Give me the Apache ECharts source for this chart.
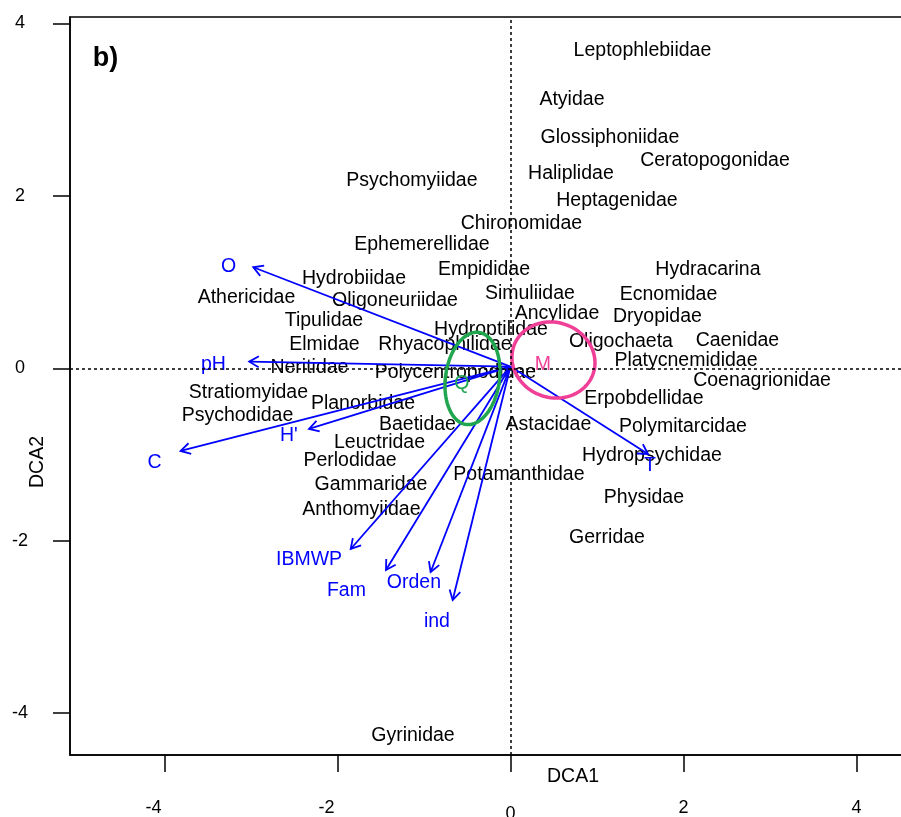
<!DOCTYPE html>
<html><head><meta charset="utf-8">
<script src="https://cdn.jsdelivr.net/npm/echarts@6/dist/echarts.min.js"></script>
<style>html,body{margin:0;padding:0;background:#fff;}#c{width:901px;height:817px;}</style>
</head><body><div id="c"></div>
<script>
// ---------- data (DCA scores) ----------
const speciesNames = ['Leptophlebiidae','Atyidae','Glossiphoniidae','Ceratopogonidae','Haliplidae','Heptagenidae','Psychomyiidae','Chironomidae','Ephemerellidae','Empididae','Hydrobiidae','Hydracarina','Simuliidae','Ecnomidae','Oligoneuriidae','Athericidae','Ancylidae','Dryopidae','Tipulidae','Hydroptilidae','Caenidae','Oligochaeta','Elmidae','Rhyacophilidae','Platycnemididae','Neritidae','Polycentropodidae','Coenagrionidae','Stratiomyidae','Erpobdellidae','Psychodidae','Planorbidae','Baetidae','Astacidae','Polymitarcidae','Leuctridae','Hydropsychidae','Perlodidae','Potamanthidae','Gammaridae','Physidae','Anthomyiidae','Gerridae','Gyrinidae'];
const speciesX = [1.526,0.711,1.150,2.364,0.699,1.231,-1.139,0.127,-1.023,-0.306,-1.809,2.283,0.225,1.827,-1.335,-3.052,0.538,1.699,-2.156,-0.225,2.624,1.277,-2.150,-0.757,2.029,-2.324,-0.636,2.908,-3.029,1.543,-3.156,-1.705,-1.075,0.439,1.994,-1.514,1.636,-1.855,0.098,-1.613,1.543,-1.723,1.116,-1.127];
const speciesY = [3.704,3.136,2.695,2.428,2.277,1.964,2.196,1.697,1.454,1.164,1.059,1.164,0.885,0.874,0.804,0.839,0.653,0.618,0.572,0.468,0.334,0.328,0.294,0.294,0.102,0.027,-0.031,-0.124,-0.263,-0.333,-0.530,-0.391,-0.634,-0.634,-0.658,-0.843,-0.994,-1.058,-1.220,-1.336,-1.487,-1.621,-1.945,-4.242];

const vectorNames = ['O','pH',"H'",'C','IBMWP','Fam','Orden','ind','T'];
const vectorX = [-2.973,-3.020,-2.329,-3.813,-1.847,-1.439,-0.923,-0.668,1.590];
const vectorY = [1.172,0.077,-0.704,-0.959,-2.096,-2.340,-2.363,-2.688,-0.994];
const vectorLabelX = [-3.260,-3.434,-2.561,-4.116,-2.329,-1.896,-1.116,-0.850,1.613];
const vectorLabelY = [1.198,0.065,-0.762,-1.072,-2.201,-2.560,-2.468,-2.926,-1.110];
const vectorOrigin = [0, 0.02];

const groupNames = ['Q','M'];
const groupX = [-0.439, 0.497];
const groupY = [-0.118, 0.096];
const groupRx = [0.312, 0.486];
const groupRy = [0.539, 0.435];
const groupAngle = [8, 20];
const groupLabelX = [-0.561, 0.376];
const groupLabelY = [-0.159, 0.061];

const xTicks = [-4, -2, 0, 2, 4];
const yTicks = [-4, -2, 0, 2, 4];

// ---------- styles ----------
const FONT = '"Liberation Sans", Arial, sans-serif';
const BLUE = '#0000ff';
const groupColors = ['#1fa64f', '#ef3f97'];
const TEXT_DY = 1.5;

const chart = echarts.init(document.getElementById('c'), null, {renderer: 'canvas'});

function textRender(names, colors) {
  return function (params, api) {
    const p = api.coord([api.value(0), api.value(1)]);
    const i = params.dataIndex;
    return {
      type: 'text', x: p[0], y: p[1] + TEXT_DY,
      style: {
        text: names[i], textAlign: 'center', textVerticalAlign: 'middle',
        font: '19.5px ' + FONT, fill: Array.isArray(colors) ? colors[i] : colors
      }
    };
  };
}

const speciesData = speciesNames.map((n, i) => [speciesX[i], speciesY[i]]);
const vectorData = vectorNames.map((n, i) => [vectorX[i], vectorY[i], vectorOrigin[0], vectorOrigin[1]]);
const vectorLabelData = vectorNames.map((n, i) => [vectorLabelX[i], vectorLabelY[i]]);
const groupData = groupNames.map((n, i) => [groupX[i], groupY[i], groupRx[i], groupRy[i], groupAngle[i]]);
const groupLabelData = groupNames.map((n, i) => [groupLabelX[i], groupLabelY[i]]);

const tickFont = {fontSize: 18, fontFamily: FONT, color: '#000'};

const option = {
  animation: false,
  backgroundColor: '#fff',
  grid: {left: 70, top: 17, width: 840, height: 738, containLabel: false, outerBoundsMode: 'none', show: true, borderColor: '#000', borderWidth: 1.5, backgroundColor: 'transparent'},
  xAxis: {
    type: 'value', min: -5.092, max: 4.619,
    axisLine: {show: true, onZero: false, lineStyle: {color: '#000', width: 1.5}},
    axisTick: {show: true, customValues: xTicks, length: 17, lineStyle: {color: '#000', width: 1.5}},
    axisLabel: {
      customValues: xTicks, margin: 44, fontSize: 18, fontFamily: FONT, color: '#000',
      formatter: function (v) {
        if (v < 0) return '{n|' + v + '}';
        if (v === 0) return '{z|0}';
        return String(v);
      },
      rich: {
        n: Object.assign({padding: [0, 22, 0, 0]}, tickFont),
        z: Object.assign({padding: [6, 0, 0, 0]}, tickFont)
      }
    },
    splitLine: {show: false}
  },
  yAxis: {
    type: 'value', min: -4.486, max: 4.075,
    axisLine: {show: true, onZero: false, lineStyle: {color: '#000', width: 1.5}},
    axisTick: {show: true, customValues: yTicks, length: 17, lineStyle: {color: '#000', width: 1.5}},
    axisLabel: {customValues: yTicks, margin: 50, align: 'center', fontSize: 18, fontFamily: FONT, color: '#000', padding: [2, 0, 0, 0]},
    splitLine: {show: false}
  },
  graphic: [
    {type: 'text', x: 105.5, y: 59, style: {text: 'b)', font: 'bold 27px ' + FONT, fill: '#000', textAlign: 'center', textVerticalAlign: 'middle'}},
    {type: 'text', x: 573, y: 777, style: {text: 'DCA1', font: '19.5px ' + FONT, fill: '#000', textAlign: 'center', textVerticalAlign: 'middle'}},
    {type: 'text', x: 38, y: 462, rotation: Math.PI / 2, style: {text: 'DCA2', font: '19.5px ' + FONT, fill: '#000', textAlign: 'center', textVerticalAlign: 'middle'}}
  ],
  series: [
    {
      type: 'custom', name: 'species', data: speciesData, z: 2,
      renderItem: textRender(speciesNames, '#000'),
      markLine: {
        silent: true, symbol: 'none', label: {show: false},
        lineStyle: {color: '#000', width: 1.5, type: [3, 3]},
        data: [{xAxis: 0}, {yAxis: 0}]
      }
    },
    {
      type: 'custom', name: 'vectors', data: vectorData, z: 3,
      renderItem: function (params, api) {
        const tip = api.coord([api.value(0), api.value(1)]);
        const org = api.coord([api.value(2), api.value(3)]);
        const a = Math.atan2(tip[1] - org[1], tip[0] - org[0]);
        const L = 11, phi = Math.PI / 6;
        const p1 = [tip[0] - L * Math.cos(a - phi), tip[1] - L * Math.sin(a - phi)];
        const p2 = [tip[0] - L * Math.cos(a + phi), tip[1] - L * Math.sin(a + phi)];
        const st = {stroke: BLUE, lineWidth: 1.8, fill: null};
        return {
          type: 'group', children: [
            {type: 'line', shape: {x1: org[0], y1: org[1], x2: tip[0], y2: tip[1]}, style: st},
            {type: 'polyline', shape: {points: [p1, tip, p2]}, style: st}
          ]
        };
      }
    },
    {
      type: 'custom', name: 'vectorLabels', data: vectorLabelData, z: 3,
      renderItem: textRender(vectorNames, BLUE)
    },
    {
      type: 'custom', name: 'groups', data: groupData, z: 4,
      renderItem: function (params, api) {
        const c = api.coord([api.value(0), api.value(1)]);
        const s = api.size([api.value(2), api.value(3)]);
        const th = api.value(4) * Math.PI / 180;
        const pts = [];
        for (let k = 0; k < 90; k++) {
          const t = k / 90 * Math.PI * 2;
          const x = s[0] * Math.cos(t), y = s[1] * Math.sin(t);
          pts.push([c[0] + x * Math.cos(th) - y * Math.sin(th), c[1] + x * Math.sin(th) + y * Math.cos(th)]);
        }
        return {type: 'polygon', shape: {points: pts}, style: {stroke: groupColors[params.dataIndex], lineWidth: 3.5, fill: null}};
      }
    },
    {
      type: 'custom', name: 'groupLabels', data: groupLabelData, z: 4,
      renderItem: textRender(groupNames, groupColors)
    }
  ]
};
chart.setOption(option);
</script>
</body></html>
